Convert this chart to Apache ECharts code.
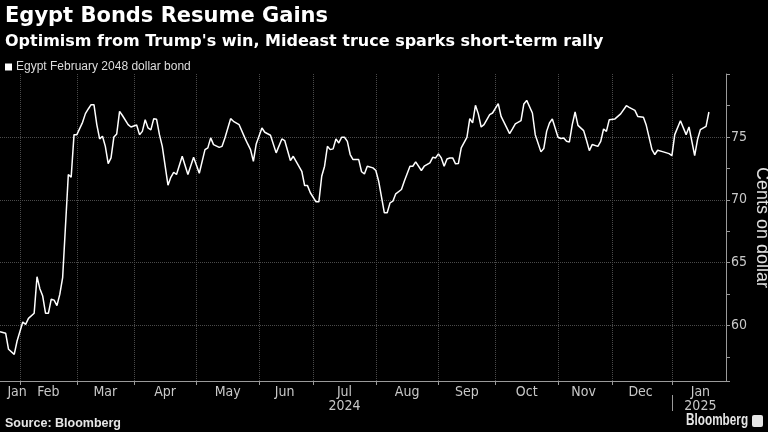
<!DOCTYPE html>
<html>
<head>
<meta charset="utf-8">
<script src="https://cdn.jsdelivr.net/npm/echarts@6/dist/echarts.min.js"></script>
<style>
html,body{margin:0;padding:0;background:#000;}
#chart{width:768px;height:432px;}
</style>
</head>
<body>
<div id="chart"></div>
<script>
// ---- Data ----
const seriesName = 'Egypt February 2048 dollar bond';
const holidays = ['2024-02-19','2024-03-29','2024-05-27','2024-06-19','2024-07-04','2024-09-02',
  '2024-10-14','2024-11-11','2024-11-28','2024-12-25','2025-01-01','2025-01-20'];
const axisStart = '2024-01-23';
const axisEnd = '2025-01-30';

const obsDates = [
 '2024-01-23','2024-01-25','2024-01-26','2024-01-30','2024-01-31','2024-02-02','2024-02-05','2024-02-06','2024-02-08','2024-02-09',
 '2024-02-12','2024-02-13','2024-02-14','2024-02-15','2024-02-16','2024-02-20','2024-02-21','2024-02-22','2024-02-23','2024-02-27',
 '2024-02-28','2024-02-29','2024-03-01','2024-03-05','2024-03-06','2024-03-07','2024-03-08','2024-03-11','2024-03-12','2024-03-13',
 '2024-03-14','2024-03-15','2024-03-18','2024-03-19','2024-03-20','2024-03-21','2024-03-22','2024-03-25','2024-03-27','2024-03-28',
 '2024-04-02','2024-04-03','2024-04-04','2024-04-05','2024-04-08','2024-04-09','2024-04-10','2024-04-11','2024-04-12','2024-04-15',
 '2024-04-17','2024-04-18','2024-04-19','2024-04-22','2024-04-24','2024-04-26','2024-04-30','2024-05-02','2024-05-06','2024-05-07',
 '2024-05-08','2024-05-09','2024-05-13','2024-05-14','2024-05-15','2024-05-17','2024-05-20','2024-05-22','2024-05-24','2024-05-28',
 '2024-05-29','2024-05-30','2024-05-31','2024-06-04','2024-06-05','2024-06-07','2024-06-11','2024-06-13','2024-06-14','2024-06-18',
 '2024-06-20','2024-06-25','2024-06-26','2024-06-27','2024-06-28','2024-07-02','2024-07-03','2024-07-05','2024-07-08','2024-07-09',
 '2024-07-10','2024-07-11','2024-07-12','2024-07-15','2024-07-16','2024-07-17','2024-07-18','2024-07-19','2024-07-22','2024-07-24',
 '2024-07-25','2024-07-26','2024-07-29','2024-07-31','2024-08-01','2024-08-02','2024-08-06','2024-08-07','2024-08-08','2024-08-09',
 '2024-08-12','2024-08-14','2024-08-15','2024-08-19','2024-08-20','2024-08-21','2024-08-23','2024-08-26','2024-08-28','2024-08-29',
 '2024-08-30','2024-09-03','2024-09-04','2024-09-05','2024-09-06','2024-09-09','2024-09-10','2024-09-11','2024-09-12','2024-09-13',
 '2024-09-17','2024-09-18','2024-09-19','2024-09-20','2024-09-23','2024-09-24','2024-09-25','2024-09-27','2024-09-30','2024-10-02',
 '2024-10-03','2024-10-08','2024-10-09','2024-10-10','2024-10-15','2024-10-16','2024-10-17','2024-10-21','2024-10-22','2024-10-24',
 '2024-10-25','2024-10-28','2024-10-29','2024-10-30','2024-11-01','2024-11-04','2024-11-05','2024-11-06','2024-11-07','2024-11-08',
 '2024-11-12','2024-11-13','2024-11-15','2024-11-18','2024-11-19','2024-11-20','2024-11-22','2024-11-25','2024-11-26','2024-11-27',
 '2024-11-29','2024-12-03','2024-12-05','2024-12-09','2024-12-10','2024-12-12','2024-12-13','2024-12-17','2024-12-18','2024-12-20',
 '2024-12-23','2024-12-24','2024-12-27','2024-12-31','2025-01-02','2025-01-03','2025-01-07','2025-01-09','2025-01-10','2025-01-14',
 '2025-01-15','2025-01-16','2025-01-21','2025-01-22'
];
const obsValues = [
 59.52,59.39,58.12,57.72,58.78,60.29,60.10,60.58,60.98,63.89,
 62.94,62.35,60.98,60.98,62.11,62.03,61.59,62.48,63.81,72.01,
 71.79,75.18,75.18,76.16,76.85,77.22,77.56,77.56,75.98,74.84,
 75.05,74.25,72.88,73.33,75.00,75.24,77.03,76.70,75.98,75.79,
 75.95,75.18,75.44,76.37,75.71,75.56,76.45,76.40,75.18,74.25,
 71.16,71.79,72.19,72.01,73.46,72.01,73.38,72.11,73.99,74.13,
 74.92,74.39,74.17,74.25,74.92,76.45,76.24,75.97,74.92,74.44,
 73.99,73.06,74.44,75.71,75.37,75.13,73.73,74.84,74.71,73.12,
 73.46,72.27,71.13,71.13,70.56,69.84,69.84,71.87,72.67,74.25,
 73.99,74.05,74.84,74.52,74.97,74.97,74.65,73.60,73.20,73.20,
 72.23,72.06,72.67,72.54,72.33,71.48,68.97,68.97,69.76,69.89,
 70.48,70.82,71.48,72.67,72.67,73.02,72.33,72.67,72.94,73.38,
 73.33,73.65,73.33,72.67,73.25,73.33,73.33,72.86,72.88,74.13,
 74.97,76.45,76.11,77.51,76.83,75.79,75.98,76.77,76.90,77.64,
 76.63,75.26,75.63,76.03,76.29,77.62,77.90,76.90,75.18,73.81,
 74.07,75.44,76.11,76.43,74.97,74.87,74.92,74.65,74.60,75.98,
 76.98,75.92,75.50,74.73,73.91,74.39,74.25,74.65,75.63,75.44,
 76.37,76.43,76.83,77.48,77.35,77.11,76.63,76.56,75.92,73.99,
 73.60,73.94,73.81,73.67,73.52,75.18,76.29,75.18,75.79,73.52,
 74.79,75.58,75.84,76.98
];
// month tick labels and where they sit (mid-month trading day)
const labelDates = ['2024-01-31','2024-02-15','2024-03-15','2024-04-16','2024-05-16','2024-06-14',
  '2024-07-17','2024-08-16','2024-09-17','2024-10-17','2024-11-15','2024-12-16','2025-01-16'];
const labelTexts = ['Jan','Feb','Mar','Apr','May','Jun','Jul\n2024','Aug','Sep','Oct','Nov','Dec','Jan\n2025'];

// ---- Build the trading-day category axis ----
const tradingDays = [];
(function(){
  const s = Date.parse(axisStart + 'T00:00:00Z'), e = Date.parse(axisEnd + 'T00:00:00Z');
  for (let t = s; t <= e; t += 86400000) {
    const d = new Date(t);
    const wd = d.getUTCDay();
    const iso = d.toISOString().slice(0, 10);
    if (wd !== 0 && wd !== 6 && holidays.indexOf(iso) < 0) tradingDays.push(iso);
  }
})();
const monthStart = new Set();
const yearStart = new Set();
for (let i = 1; i < tradingDays.length; i++) {
  if (tradingDays[i].slice(0, 7) !== tradingDays[i - 1].slice(0, 7)) monthStart.add(i);
  if (tradingDays[i].slice(0, 4) !== tradingDays[i - 1].slice(0, 4)) yearStart.add(i);
}
const labelMap = {};
labelDates.forEach((d, i) => { labelMap[d] = labelTexts[i]; });
const seriesData = obsDates.map((d, i) => [d, obsValues[i]]);

const FONT = '"Liberation Sans", Arial, sans-serif';
const WIDE = '"DejaVu Sans", "Liberation Sans", sans-serif';
const NARROW = '"Liberation Sans Narrow", "DejaVu Sans Condensed", "Liberation Sans", sans-serif';

const chart = echarts.init(document.getElementById('chart'), null, {renderer: 'canvas'});
chart.setOption({
  backgroundColor: '#000',
  animation: false,
  title: [
    {text: 'Egypt Bonds Resume Gains', left: 5, top: 6, padding: 0,
     textStyle: {color: '#fff', fontSize: 21, fontWeight: 'bold', fontFamily: WIDE}},
    {text: "Optimism from Trump's win, Mideast truce sparks short-term rally", left: 5, top: 34, padding: 0,
     textStyle: {color: '#fff', fontSize: 16, fontWeight: 'bold', fontFamily: WIDE}}
  ],
  legend: {
    left: 0, top: 56, icon: 'rect', itemWidth: 7, itemHeight: 7,
    textStyle: {color: '#ddd', fontSize: 12, fontFamily: FONT, padding: [0, 0, 0, -1]},
    data: [seriesName]
  },
  grid: {left: 0, right: 42, top: 74, bottom: 51, containLabel: false, outerBoundsMode: 'none'},
  xAxis: [
    {
      type: 'category', data: tradingDays, boundaryGap: false,
      axisLine: {show: true, lineStyle: {color: '#9a9a9a', width: 1}},
      axisTick: {show: true, length: 4, interval: (i) => monthStart.has(i), lineStyle: {color: '#9a9a9a'}},
      axisLabel: {
        interval: (i, v) => labelMap[v] !== undefined,
        formatter: (v) => labelMap[v] || '',
        color: '#c8c8c8', fontSize: 14, fontFamily: NARROW, margin: 4, lineHeight: 14
      },
      splitLine: {show: true, interval: (i) => monthStart.has(i), lineStyle: {color: '#4a4a4a', type: 'dotted', width: 1}}
    },
    {
      type: 'category', data: tradingDays, boundaryGap: false, position: 'bottom', offset: 14,
      axisLine: {show: false},
      axisTick: {show: true, length: 16, interval: (i) => yearStart.has(i), lineStyle: {color: '#9a9a9a'}},
      axisLabel: {show: false},
      splitLine: {show: false}
    }
  ],
  yAxis: {
    type: 'value', position: 'right', min: 55.6, max: 80, splitNumber: 5,
    axisLine: {show: true, lineStyle: {color: '#9a9a9a', width: 1}},
    axisTick: {show: true, length: 4, lineStyle: {color: '#9a9a9a'}},
    minorTick: {show: true, splitNumber: 2, length: 4, lineStyle: {color: '#9a9a9a'}},
    axisLabel: {showMinLabel: false, showMaxLabel: false, color: '#c8c8c8', fontSize: 14, fontFamily: NARROW, margin: 5},
    splitLine: {show: true, showMinLine: false, showMaxLine: false, lineStyle: {color: '#4a4a4a', type: 'dotted', width: 1}},
    name: 'Cents on dollar', nameLocation: 'middle', nameRotate: -90, nameGap: 27, nameMoveOverlap: false,
    nameTextStyle: {color: '#e0e0e0', fontSize: 18, fontFamily: FONT}
  },
  series: [{
    name: seriesName, type: 'line', xAxisIndex: 0, data: seriesData,
    showSymbol: false, symbol: 'none', smooth: false,
    lineStyle: {color: '#ffffff', width: 1.5}, itemStyle: {color: '#ffffff'}
  }],
  graphic: [
    {type: 'text', left: 5, top: 417, style: {text: 'Source: Bloomberg', fill: '#e6e6e6',
      font: 'bold 12.5px ' + FONT}},
    {type: 'text', x: 686, y: 413, scaleX: 0.735, style: {text: 'Bloomberg', fill: '#e6e6e6',
      font: 'bold 16px ' + FONT}},
    {type: 'rect', x: 752, y: 415, shape: {width: 11, height: 12, r: 2}, style: {fill: '#e6e6e6'}}
  ]
});
</script>
</body>
</html>
